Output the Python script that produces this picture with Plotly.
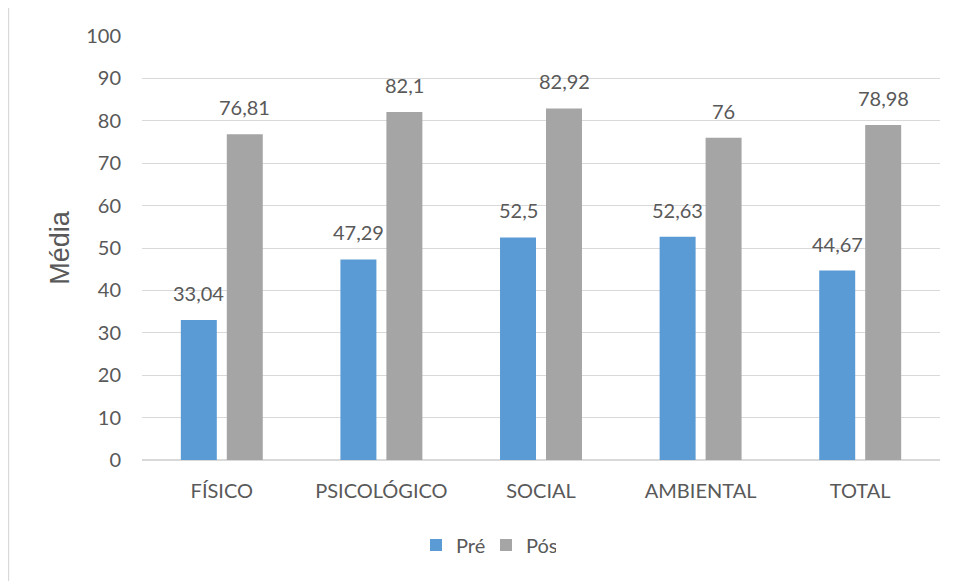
import plotly.graph_objects as go

categories = ["FÍSICO", "PSICOLÓGICO", "SOCIAL", "AMBIENTAL", "TOTAL"]
pre_values = [33.04, 47.29, 52.5, 52.63, 44.67]
pos_values = [76.81, 82.1, 82.92, 76, 78.98]
series_names = ["Pré", "Pós"]
y_ticks = list(range(0, 101, 10))


def fmt(v):
    return f"{v:g}".replace(".", ",")


BLUE = "#5B9BD5"
GRAY = "#A5A5A5"
TXT = "#595959"
FONT = "Lato"

fig = go.Figure()
fig.add_trace(go.Bar(x=categories, y=pre_values, name=series_names[0],
                     marker=dict(color=BLUE, line=dict(width=0))))
fig.add_trace(go.Bar(x=categories, y=pos_values, name=series_names[1],
                     marker=dict(color=GRAY, line=dict(width=0))))

annotations = []
for vals, shift in ((pre_values, -23), (pos_values, 23)):
    for c, v in zip(categories, vals):
        annotations.append(dict(x=c, y=v, xref="x", yref="y", text=fmt(v),
                                showarrow=False, xshift=shift, yshift=13,
                                yanchor="bottom",
                                font=dict(family=FONT, size=20, color=TXT)))

# figure is placed at page offset (8, 8) by the browser body margin
W, H = 950, 573
L, R, T, B = 134, 18, 28, 121
pw, ph = W - L - R, H - T - B


def px_x(p):
    return (p - L) / pw


def px_y(p):
    return (H - B - p) / ph


fig.update_layout(
    width=W, height=H,
    margin=dict(l=L, r=R, t=T, b=B),
    paper_bgcolor="white", plot_bgcolor="white",
    barmode="group", bargap=0.424, bargroupgap=0.217,
    font=dict(family=FONT, size=20, color=TXT),
    showlegend=True,
    legend=dict(orientation="h", x=px_x(478), y=px_y(537), xanchor="center",
                yanchor="middle", font=dict(family=FONT, size=20, color=TXT),
                itemwidth=30, entrywidth=25, entrywidthmode="pixels",
                traceorder="normal"),
    annotations=annotations,
    shapes=[dict(type="rect", xref="paper", yref="paper",
                 x0=px_x(0.6), x1=px_x(990), y0=px_y(-0.5), y1=px_y(600),
                 line=dict(color="#D9D9D9", width=1.2), fillcolor="rgba(0,0,0,0)",
                 layer="below")],
    xaxis=dict(showgrid=False, showline=False, zeroline=False,
               tickfont=dict(family=FONT, size=20, color=TXT),
               ticklabelstandoff=17),
    yaxis=dict(range=[0, 100], tickvals=y_ticks, showgrid=True,
               gridcolor="#D9D9D9", gridwidth=1.3, zeroline=True,
               zerolinecolor="#D9D9D9", zerolinewidth=1.5, showline=False,
               tickfont=dict(family=FONT, size=20, color=TXT),
               ticklabelstandoff=20,
               title=dict(text="Média", standoff=8,
                          font=dict(family="Liberation Sans", size=27, color=TXT))),
)

fig.write_html("out.html")
